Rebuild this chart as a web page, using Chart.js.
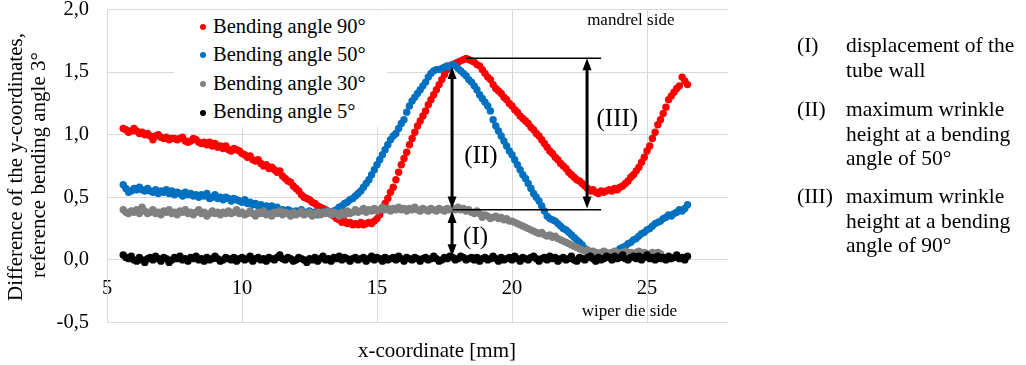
<!DOCTYPE html>
<html>
<head>
<meta charset="utf-8">
<title>Wrinkle height</title>
<script src="https://cdn.jsdelivr.net/npm/chart.js@4.4.0/dist/chart.umd.min.js"></script>
<style>
  html, body { margin: 0; padding: 0; background: #fff; }
  #wrap { position: relative; width: 1026px; height: 365px; font-family: 'Liberation Serif', 'Times New Roman', serif; color: #000; }
  #chart { position: absolute; left: 0; top: 0; }
  #legend { position: absolute; left: 174px; top: 11px; width: 213px; height: 116px; background: #fff; }
  .leg-item { position: absolute; left: 26px; height: 24px; line-height: 24px; font-size: 20.5px; white-space: nowrap; }
  .leg-dot { display: inline-block; width: 6px; height: 6px; border-radius: 50%; margin-right: 7px; vertical-align: middle; position: relative; top: -1px; }
  .note { position: absolute; height: 24px; line-height: 24px; font-size: 21.5px; white-space: nowrap; }
  .axis-title { position: absolute; height: 24px; line-height: 24px; font-size: 21px; white-space: nowrap; }
</style>
</head>
<body>
<div id="wrap">
  <canvas id="chart" width="1026" height="365"></canvas>
  <div id="legend"></div>
  <div id="titles"></div>
  <div id="notes"></div>
</div>
<script>
// x positions of the measured points [mm]
const xValues = [
  5.6, 5.7, 5.8, 5.9, 6.0, 6.1, 6.2, 6.3, 6.4, 6.5,
  6.6, 6.7, 6.8, 6.9, 7.0, 7.1, 7.2, 7.3, 7.4, 7.5,
  7.6, 7.7, 7.8, 7.9, 8.0, 8.1, 8.2, 8.3, 8.4, 8.5,
  8.6, 8.7, 8.8, 8.9, 9.0, 9.1, 9.2, 9.3, 9.4, 9.5,
  9.6, 9.7, 9.8, 9.9, 10.0, 10.1, 10.2, 10.3, 10.4, 10.5,
  10.6, 10.7, 10.8, 10.9, 11.0, 11.1, 11.2, 11.3, 11.4, 11.5,
  11.6, 11.7, 11.8, 11.9, 12.0, 12.1, 12.2, 12.3, 12.4, 12.5,
  12.6, 12.7, 12.8, 12.9, 13.0, 13.1, 13.2, 13.3, 13.4, 13.5,
  13.6, 13.7, 13.8, 13.9, 14.0, 14.1, 14.2, 14.3, 14.4, 14.5,
  14.6, 14.7, 14.8, 14.9, 15.0, 15.1, 15.2, 15.3, 15.4, 15.5,
  15.6, 15.7, 15.8, 15.9, 16.0, 16.1, 16.2, 16.3, 16.4, 16.5,
  16.6, 16.7, 16.8, 16.9, 17.0, 17.1, 17.2, 17.3, 17.4, 17.5,
  17.6, 17.7, 17.8, 17.9, 18.0, 18.1, 18.2, 18.3, 18.4, 18.5,
  18.6, 18.7, 18.8, 18.9, 19.0, 19.1, 19.2, 19.3, 19.4, 19.5,
  19.6, 19.7, 19.8, 19.9, 20.0, 20.1, 20.2, 20.3, 20.4, 20.5,
  20.6, 20.7, 20.8, 20.9, 21.0, 21.1, 21.2, 21.3, 21.4, 21.5,
  21.6, 21.7, 21.8, 21.9, 22.0, 22.1, 22.2, 22.3, 22.4, 22.5,
  22.6, 22.7, 22.8, 22.9, 23.0, 23.1, 23.2, 23.3, 23.4, 23.5,
  23.6, 23.7, 23.8, 23.9, 24.0, 24.1, 24.2, 24.3, 24.4, 24.5,
  24.6, 24.7, 24.8, 24.9, 25.0, 25.1, 25.2, 25.3, 25.4, 25.5,
  25.6, 25.7, 25.8, 25.9, 26.0, 26.1, 26.2, 26.3, 26.4, 26.5
];

// y differences per bending angle
const angle90 = [
  1.05, 1.04, 1.02, 1.03, 1.05, 1.03, 1.01, 1.02, 1.00, 1.01,
  0.99, 0.96, 0.99, 1.00, 0.98, 0.97, 0.98, 0.96, 0.97, 0.97,
  0.96, 0.97, 0.98, 0.95, 0.94, 0.95, 0.97, 0.96, 0.94, 0.93,
  0.94, 0.92, 0.94, 0.91, 0.93, 0.90, 0.91, 0.89, 0.91, 0.88,
  0.87, 0.89, 0.88, 0.87, 0.85, 0.84, 0.82, 0.83, 0.80, 0.79,
  0.80, 0.77, 0.75, 0.76, 0.73, 0.74, 0.72, 0.70, 0.71, 0.67,
  0.65, 0.63, 0.62, 0.59, 0.57, 0.55, 0.52, 0.50, 0.49, 0.48,
  0.46, 0.45, 0.43, 0.42, 0.41, 0.40, 0.38, 0.37, 0.35, 0.33,
  0.32, 0.30, 0.31, 0.29, 0.30, 0.28, 0.29, 0.28, 0.30, 0.28,
  0.29, 0.30, 0.29, 0.31, 0.33, 0.36, 0.40, 0.45, 0.49, 0.54,
  0.58, 0.64, 0.70, 0.76, 0.81, 0.86, 0.92, 0.97, 1.02, 1.07,
  1.11, 1.15, 1.19, 1.24, 1.28, 1.32, 1.36, 1.40, 1.44, 1.48,
  1.52, 1.55, 1.56, 1.57, 1.58, 1.59, 1.60, 1.61, 1.60, 1.59,
  1.58, 1.56, 1.55, 1.52, 1.49, 1.46, 1.44, 1.40, 1.37, 1.35,
  1.33, 1.30, 1.28, 1.25, 1.23, 1.20, 1.18, 1.15, 1.13, 1.11,
  1.09, 1.06, 1.04, 1.01, 0.99, 0.96, 0.93, 0.90, 0.87, 0.85,
  0.82, 0.80, 0.77, 0.75, 0.73, 0.70, 0.68, 0.66, 0.64, 0.63,
  0.61, 0.59, 0.57, 0.55, 0.56, 0.54, 0.53, 0.55, 0.54, 0.55,
  0.56, 0.55, 0.57, 0.56, 0.58, 0.59, 0.61, 0.63, 0.66, 0.68,
  0.71, 0.74, 0.78, 0.82, 0.87, 0.91, 0.97, 1.02, 1.08, 1.12,
  1.17, 1.22, 1.28, 1.31, 1.34, 1.37, 1.39, 1.46, 1.43, 1.40
];

const angle50 = [
  0.60, 0.57, 0.54, 0.55, 0.57, 0.56, 0.58, 0.56, 0.55, 0.57,
  0.55, 0.54, 0.56, 0.53, 0.55, 0.54, 0.56, 0.53, 0.55, 0.52,
  0.54, 0.53, 0.51, 0.54, 0.52, 0.53, 0.51, 0.52, 0.50, 0.52,
  0.51, 0.53, 0.49, 0.50, 0.52, 0.49, 0.50, 0.48, 0.50, 0.49,
  0.47, 0.49, 0.48, 0.47, 0.46, 0.48, 0.45, 0.46, 0.44, 0.45,
  0.43, 0.44, 0.42, 0.43, 0.41, 0.43, 0.40, 0.42, 0.39, 0.40,
  0.38, 0.40, 0.39, 0.37, 0.39, 0.38, 0.40, 0.37, 0.38, 0.39,
  0.37, 0.38, 0.36, 0.38, 0.37, 0.39, 0.38, 0.37, 0.39, 0.40,
  0.42, 0.43, 0.45, 0.46, 0.48, 0.49, 0.51, 0.53, 0.55, 0.58,
  0.61, 0.64, 0.68, 0.72, 0.76, 0.80, 0.84, 0.88, 0.92, 0.96,
  0.99, 1.01, 1.05, 1.09, 1.12, 1.18, 1.23, 1.27, 1.30, 1.33,
  1.36, 1.39, 1.42, 1.46, 1.49, 1.51, 1.52, 1.52, 1.53, 1.54,
  1.55, 1.54, 1.56, 1.55, 1.53, 1.51, 1.49, 1.47, 1.44, 1.42,
  1.39, 1.36, 1.32, 1.29, 1.26, 1.23, 1.19, 1.12, 1.07, 1.03,
  0.99, 0.95, 0.91, 0.87, 0.84, 0.80, 0.76, 0.72, 0.68, 0.65,
  0.61, 0.57, 0.53, 0.50, 0.47, 0.43, 0.39, 0.35, 0.33, 0.32,
  0.31, 0.29, 0.27, 0.25, 0.24, 0.22, 0.20, 0.18, 0.16, 0.14,
  0.12, 0.09, 0.07, 0.05, 0.03, 0.02, 0.04, 0.03, 0.02, 0.04,
  0.03, 0.05, 0.06, 0.07, 0.09, 0.10, 0.11, 0.13, 0.14, 0.16,
  0.17, 0.19, 0.21, 0.22, 0.24, 0.25, 0.27, 0.29, 0.30, 0.31,
  0.33, 0.34, 0.36, 0.35, 0.37, 0.38, 0.40, 0.39, 0.41, 0.44
];

// 30° ends at x = 25.5
const angle30 = [
  0.40, 0.38, 0.37, 0.39, 0.38, 0.40, 0.37, 0.42, 0.39, 0.37,
  0.38, 0.40, 0.37, 0.38, 0.36, 0.39, 0.38, 0.40, 0.37, 0.38,
  0.36, 0.39, 0.38, 0.40, 0.37, 0.38, 0.36, 0.38, 0.40, 0.37,
  0.38, 0.35, 0.37, 0.39, 0.37, 0.38, 0.36, 0.38, 0.37, 0.39,
  0.37, 0.38, 0.40, 0.37, 0.38, 0.36, 0.37, 0.39, 0.37, 0.35,
  0.38, 0.37, 0.39, 0.36, 0.37, 0.35, 0.38, 0.37, 0.39, 0.36,
  0.38, 0.37, 0.35, 0.38, 0.36, 0.37, 0.39, 0.36, 0.37, 0.38,
  0.35, 0.37, 0.38, 0.36, 0.38, 0.37, 0.39, 0.36, 0.38, 0.37,
  0.35, 0.38, 0.36, 0.39, 0.37, 0.38, 0.40, 0.38, 0.39, 0.41,
  0.38, 0.40, 0.39, 0.41, 0.39, 0.40, 0.42, 0.40, 0.41, 0.39,
  0.41, 0.40, 0.42, 0.40, 0.41, 0.39, 0.41, 0.40, 0.42, 0.40,
  0.39, 0.41, 0.40, 0.39, 0.41, 0.40, 0.39, 0.41, 0.40, 0.39,
  0.41, 0.40, 0.41, 0.40, 0.42, 0.40, 0.41, 0.39, 0.40, 0.38,
  0.37, 0.39, 0.37, 0.34, 0.36, 0.35, 0.33, 0.34, 0.35, 0.33,
  0.34, 0.32, 0.33, 0.31, 0.31, 0.30, 0.29, 0.28, 0.27, 0.26,
  0.25, 0.24, 0.23, 0.22, 0.21, 0.22, 0.20, 0.19, 0.20, 0.18,
  0.19, 0.17, 0.16, 0.15, 0.14, 0.13, 0.12, 0.11, 0.10, 0.09,
  0.08, 0.07, 0.08, 0.06, 0.07, 0.06, 0.05, 0.06, 0.07, 0.06,
  0.05, 0.06, 0.07, 0.06, 0.05, 0.06, 0.07, 0.05, 0.06, 0.05,
  0.06, 0.07, 0.05, 0.06, 0.05, 0.04, 0.06, 0.05, 0.06, 0.05
];

const angle5 = [
  0.04, 0.02, 0.01, 0.03, 0.00, -0.01, 0.02, 0.00, -0.02, 0.01,
  0.02, 0.00, 0.03, 0.01, -0.01, 0.02, 0.01, -0.02, 0.00, 0.02,
  0.01, 0.03, 0.00, 0.01, -0.01, 0.02, 0.01, 0.03, 0.00, 0.01,
  -0.01, 0.02, 0.00, 0.01, 0.03, 0.01, -0.01, 0.00, 0.02, 0.01,
  0.00, 0.02, -0.01, 0.01, 0.02, 0.00, 0.01, 0.03, -0.01, 0.01,
  0.02, 0.00, 0.01, -0.01, 0.02, 0.01, 0.00, 0.02, 0.04, 0.01,
  0.00, 0.02, 0.01, -0.01, 0.00, 0.02, 0.01, 0.00, -0.02, 0.01,
  0.00, 0.02, -0.01, 0.01, 0.03, 0.00, 0.01, -0.01, 0.02, 0.01,
  0.03, 0.00, 0.02, 0.01, -0.01, 0.01, 0.02, 0.00, 0.01, 0.02,
  -0.01, 0.01, 0.03, 0.00, 0.02, 0.01, -0.01, 0.02, 0.00, 0.01,
  0.02, 0.00, 0.03, 0.01, -0.01, 0.02, 0.01, 0.00, 0.02, 0.01,
  -0.01, 0.01, 0.02, 0.00, 0.01, 0.03, 0.01, -0.01, 0.00, 0.02,
  0.01, 0.03, 0.02, 0.00, 0.01, 0.03, 0.02, 0.00, 0.01, 0.02,
  0.00, 0.02, -0.01, 0.01, 0.02, 0.00, 0.01, 0.03, 0.01, -0.01,
  0.02, 0.00, 0.01, 0.02, 0.00, 0.03, 0.01, -0.01, 0.02, 0.01,
  0.00, 0.02, 0.03, 0.01, -0.01, 0.01, 0.02, 0.00, 0.03, 0.01,
  0.02, -0.01, 0.01, 0.02, 0.00, 0.01, 0.03, 0.00, -0.01, 0.02,
  0.01, 0.00, 0.02, 0.03, 0.01, -0.01, 0.02, 0.00, 0.01, 0.03,
  0.02, 0.00, 0.03, 0.01, 0.02, 0.04, 0.01, 0.00, 0.02, 0.03,
  0.01, 0.03, 0.00, 0.02, 0.04, 0.01, 0.02, 0.00, 0.03, 0.01,
  0.02, 0.00, 0.03, 0.01, 0.02, 0.04, 0.01, 0.02, 0.00, 0.03
];

const seriesLabels = ['Bending angle 90°', 'Bending angle 50°', 'Bending angle 30°', 'Bending angle 5°'];
const seriesValues = [angle90, angle50, angle30, angle5];
const seriesColors = ['#ff0000', '#0070c0', '#808080', '#000000'];

const xTicks = [5, 10, 15, 20, 25];
const yTicks = [-0.5, 0, 0.5, 1, 1.5, 2];
const yTickLabels = ['-0,5', '0,0', '0,5', '1,0', '1,5', '2,0'];
const yTitleLines = ['Difference of the y-coordinates,', 'reference bending angle 3°'];
const xTitle = 'x-coordinate [mm]';

// measurement marks (data units)
const refLines = [
  { x1: 18.3, x2: 23.3, y: 1.61 },
  { x1: 17.8, x2: 23.3, y: 0.40 }
];
const arrowMarks = [
  { x: 17.78, y1: 0.41, y2: 1.54, label: '(II)', lx: 18.85, ly: 0.83 },
  { x: 17.78, y1: 0.03, y2: 0.39, label: '(I)', lx: 18.65, ly: 0.18 },
  { x: 22.78, y1: 0.41, y2: 1.61, label: '(III)', lx: 23.9, ly: 1.12 }
];
const sideNotes = [
  { text: 'mandrel side', x: 24.4, y: 1.91 },
  { text: 'wiper die side', x: 24.35, y: -0.41 }
];

const noteRows = [
  { key: '(I)', lines: ['displacement of the', 'tube wall'], top: 45 },
  { key: '(II)', lines: ['maximum wrinkle', 'height at a bending', 'angle of 50°'], top: 109 },
  { key: '(III)', lines: ['maximum wrinkle', 'height at a bending', 'angle of 90°'], top: 196 }
];

const FONT = "'Liberation Serif', 'Times New Roman', serif";
Chart.defaults.font.family = FONT;
Chart.defaults.color = '#000';

// legend
const legendEl = document.getElementById('legend');
seriesLabels.forEach((label, i) => {
  const item = document.createElement('div');
  item.className = 'leg-item';
  item.style.top = (2.5 + i * 28.6) + 'px';
  const dot = document.createElement('span');
  dot.className = 'leg-dot';
  dot.style.background = seriesColors[i];
  item.appendChild(dot);
  item.appendChild(document.createTextNode(label));
  legendEl.appendChild(item);
});

// axis titles
const titlesEl = document.getElementById('titles');
function addTitle(text, cx, cy, rotate) {
  const el = document.createElement('div');
  el.className = 'axis-title';
  el.style.left = cx + 'px';
  el.style.top = cy + 'px';
  el.style.transform = 'translate(-50%, -50%)' + (rotate ? ' rotate(-90deg)' : '');
  el.textContent = text;
  titlesEl.appendChild(el);
}
addTitle(yTitleLines[0], 15, 167, true);
addTitle(yTitleLines[1], 38, 165, true);
addTitle(xTitle, 437, 350, false);

// explanation on the right
const notesEl = document.getElementById('notes');
noteRows.forEach(row => {
  const key = document.createElement('div');
  key.className = 'note';
  key.style.left = '797px';
  key.style.top = (row.top - 12) + 'px';
  key.textContent = row.key;
  notesEl.appendChild(key);
  row.lines.forEach((line, j) => {
    const el = document.createElement('div');
    el.className = 'note';
    el.style.left = '846px';
    el.style.top = (row.top - 12 + j * 24.5) + 'px';
    el.textContent = line;
    notesEl.appendChild(el);
  });
});

function drawArrowHead(ctx, x, y, dir) {
  ctx.beginPath();
  ctx.moveTo(x, y);
  ctx.lineTo(x - 4.5, y - dir * 12);
  ctx.lineTo(x + 4.5, y - dir * 12);
  ctx.closePath();
  ctx.fill();
}

const marksPlugin = {
  id: 'wrinkleMarks',
  afterDatasetsDraw(chart) {
    const { ctx, scales: { x, y } } = chart;
    ctx.save();
    ctx.strokeStyle = '#000';
    ctx.fillStyle = '#000';

    ctx.lineWidth = 1.5;
    refLines.forEach(l => {
      const py = y.getPixelForValue(l.y);
      ctx.beginPath();
      ctx.moveTo(x.getPixelForValue(l.x1), py);
      ctx.lineTo(x.getPixelForValue(l.x2), py);
      ctx.stroke();
    });

    arrowMarks.forEach(a => {
      const px = x.getPixelForValue(a.x);
      const top = y.getPixelForValue(a.y2);
      const bottom = y.getPixelForValue(a.y1);
      ctx.lineWidth = 3;
      ctx.beginPath();
      ctx.moveTo(px, top + 10);
      ctx.lineTo(px, bottom - 10);
      ctx.stroke();
      drawArrowHead(ctx, px, top, -1);
      drawArrowHead(ctx, px, bottom, 1);

      ctx.font = '25px ' + FONT;
      ctx.textAlign = 'center';
      ctx.textBaseline = 'middle';
      ctx.fillText(a.label, x.getPixelForValue(a.lx), y.getPixelForValue(a.ly));
    });

    ctx.font = '17px ' + FONT;
    ctx.textAlign = 'center';
    ctx.textBaseline = 'middle';
    sideNotes.forEach(n => {
      ctx.fillText(n.text, x.getPixelForValue(n.x), y.getPixelForValue(n.y));
    });
    ctx.restore();
  }
};

const datasets = seriesLabels.map((label, i) => ({
  label: label,
  data: seriesValues[i].map((v, j) => ({ x: xValues[j], y: v })),
  xAxisID: 'x',
  yAxisID: 'y',
  backgroundColor: seriesColors[i],
  borderColor: seriesColors[i],
  pointRadius: 3.7,
  pointBorderWidth: 0,
  pointHoverRadius: 3.7,
  showLine: false,
  order: seriesLabels.length - i
}));

new Chart(document.getElementById('chart').getContext('2d'), {
  type: 'scatter',
  data: { datasets: datasets },
  options: {
    responsive: false,
    animation: false,
    layout: { padding: { left: 0, top: 9.5, right: 298, bottom: 42.5 } },
    plugins: {
      legend: { display: false },
      tooltip: { enabled: false }
    },
    scales: {
      x: {
        type: 'linear',
        min: 5,
        max: 28,
        position: { y: 0 },
        afterBuildTicks: s => { s.ticks = xTicks.map(v => ({ value: v })); },
        ticks: { font: { size: 20.5 }, color: '#000', padding: 16 },
        grid: { color: '#d9d9d9', drawTicks: false },
        border: { display: false }
      },
      y: {
        type: 'linear',
        min: -0.5,
        max: 2,
        afterBuildTicks: s => { s.ticks = yTicks.map(v => ({ value: v })); },
        ticks: {
          font: { size: 20.5 },
          color: '#000',
          padding: 18,
          callback: (v, i) => yTickLabels[i]
        },
        grid: { color: '#d9d9d9', drawTicks: false },
        border: { color: '#d9d9d9' },
        afterFit: s => { s.width = 107; s.paddingTop = 0; s.paddingBottom = 0; }
      }
    }
  },
  plugins: [marksPlugin]
});
</script>
</body>
</html>
